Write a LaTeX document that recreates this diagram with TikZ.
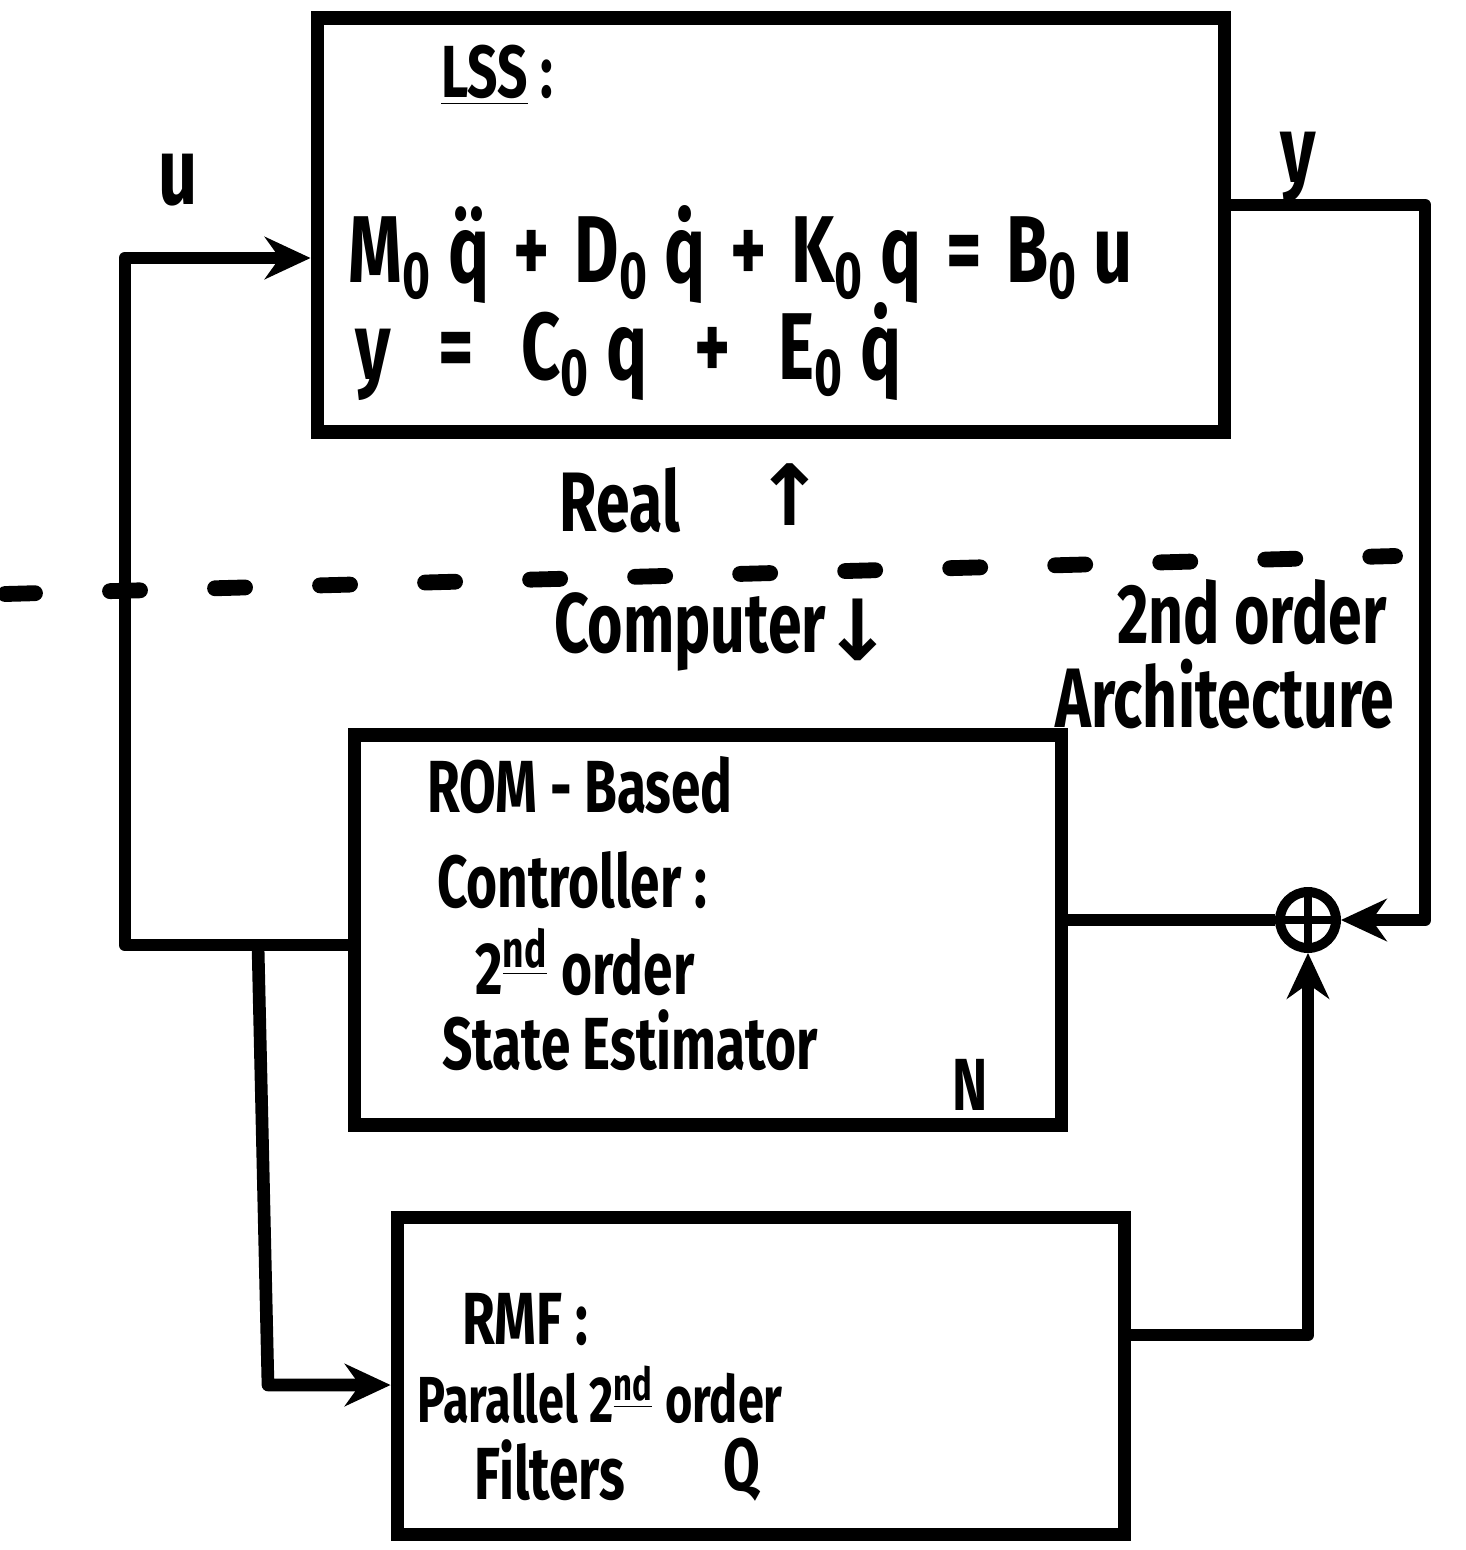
\documentclass[tikz,border=0pt]{standalone}
\usepackage{fontspec}
\setmainfont{Fira Sans}[FakeStretch=0.72]
\newfontfamily\symfont{DejaVu Sans}
\usetikzlibrary{arrows.meta}
\newcommand{\zsub}{\textsubscript{0}}
\newcommand{\gap}{\hspace{0.26em}}
\newcommand{\wgap}{\hspace{0.5em}}
\begin{document}
\begin{tikzpicture}[x=0.01cm,y=-0.01cm,
  box/.style={draw, line width=3.8pt, inner sep=0pt},
  wire/.style={line width=3.6pt, line join=round},
  arr/.style={wire, -{Stealth[length=13pt,width=12pt]}},
  txt/.style={font=\fontsize{21}{25}\selectfont\bfseries, inner sep=0pt},
  btxt/.style={font=\fontsize{24}{30}\selectfont\bfseries, inner sep=0pt},
  etxt/.style={font=\fontsize{27}{30}\selectfont\bfseries, inner sep=0pt}]
\useasboundingbox (0,0) rectangle (1466,1550);

% boxes
\node[box, minimum width=9.07cm, minimum height=4.14cm] (lss) at (771,225) {};
\node[box, minimum width=7.07cm, minimum height=3.90cm] (rom) at (708,930) {};
\node[box, minimum width=7.27cm, minimum height=3.17cm] (rmf) at (761,1376) {};
\node[draw, circle, line width=2.8pt, minimum size=0.56cm, inner sep=0pt] (sum) at (1308,920) {};
\draw[line width=2.2pt] (sum.north) -- (sum.south) (sum.west) -- (sum.east);

% coordinates for wire corners
\coordinate (uc) at (125,258);
\coordinate (lc) at (125,945);
\coordinate (jc) at (258,945);
\coordinate (rc) at (268,1385);
\coordinate (yc) at (1425,205);
\coordinate (yd) at (1425,920);
\coordinate (qc) at (1308,1335);

% connectors
\draw[arr] (rom.west |- lc) -- (lc) -- (uc) -- (uc -| lss.west);
\draw[arr] (yc -| lss.east) -- (yc) -- (yd) -- (sum.east);
\draw[wire] (sum.west) -- (sum.west -| rom.east);
\draw[arr] (qc -| rmf.east) -- (qc) -- (sum.south);
\draw[arr] (jc) -- (rc) -- (rc -| rmf.west);

% real / computer boundary
\draw[line width=4.5pt, line cap=round, dash pattern=on 0.3cm off 0.75cm] (5,594) -- (1395,556);

% labels
\node[etxt] (ulbl) at (178,180) {u};
\node[etxt] (ylbl) at (1298,168) {y};
\node[txt] (lsst) at (497,75) {\underline{LSS}\,:};
\node[etxt, anchor=west] (eq1) at (348,255) {M\zsub\,\"q\gap+\gap D\zsub\,\.q\gap+\gap K\zsub\,q\gap=\gap B\zsub\,u};
\node[etxt, anchor=west] (eq2) at (355,352) {y\wgap=\wgap C\zsub\,q\wgap+\wgap E\zsub\,\.q};
\node[btxt] (real) at (620,500) {Real};
\node[btxt] (uparr) at (790,495) {\symfont ↑};
\node[btxt] (comp) at (690,632) {Computer};
\node[btxt] (dnarr) at (858,630) {\symfont ↓};
\node[btxt] (arch1) at (1252,612) {2nd order};
\node[btxt] (arch2) at (1225,694) {Architecture};

\node[txt] (rom1) at (580,785) {ROM - Based};
\node[txt] (rom2) at (572,880) {Controller :};
\node[txt] (rom3) at (585,962) {2\textsuperscript{\underline{nd}} order};
\node[txt] (rom4) at (630,1040) {State Estimator};
\node[txt] (romn) at (970,1085) {N};

\node[txt] (rmf1) at (525,1320) {RMF :};
\node[txt, font=\fontsize{18.5}{22}\selectfont\bfseries] (rmf2) at (600,1395) {Parallel 2\textsuperscript{\underline{nd}} order};
\node[txt] (rmf3) at (550,1470) {Filters};
\node[txt] (rmfq) at (742,1470) {Q};
\end{tikzpicture}
\end{document}
